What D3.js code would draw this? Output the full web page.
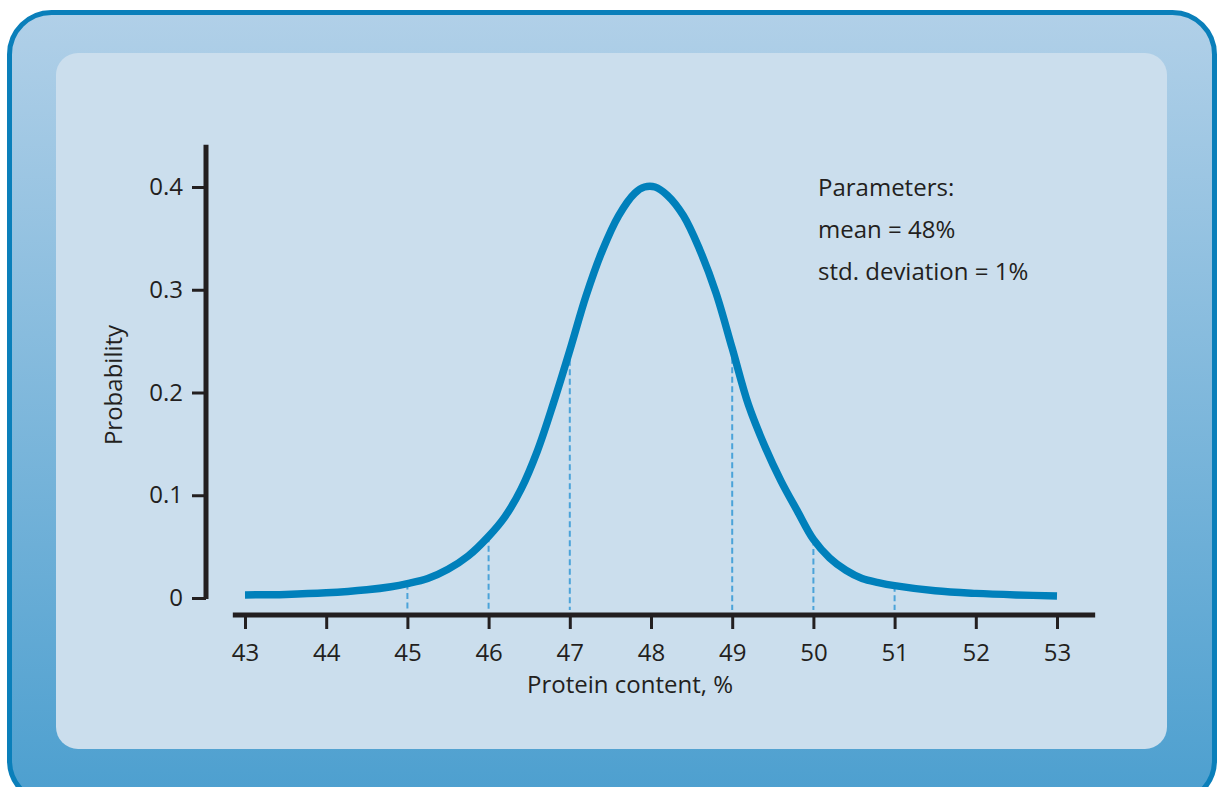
<!DOCTYPE html>
<html>
<head>
<meta charset="utf-8">
<script src="https://cdn.jsdelivr.net/npm/d3@7"></script>
<style>
  html, body { margin: 0; padding: 0; background: #ffffff; }
  svg { display: block; font-family: 'Open Sans', sans-serif; }
  .tick text { font-family: 'Open Sans', sans-serif; font-size: 24px; fill: #231f20; }
</style>
</head>
<body>
<script>
// Curve (protein %, probability)
const curveX = [43, 43.5, 44, 44.5, 44.8, 45, 45.25, 45.5, 45.75, 46, 46.2, 46.4, 46.6, 46.8,
  47, 47.2, 47.4, 47.6, 47.8, 47.92, 48.05, 48.2, 48.4, 48.6, 48.8, 49, 49.2, 49.4,
  49.6, 49.8, 50, 50.2, 50.4, 50.6, 50.8, 51, 51.5, 52, 52.5, 53];
const curveY = [0.003, 0.0035, 0.005, 0.008, 0.011, 0.014, 0.019, 0.028, 0.041, 0.060, 0.079, 0.106,
  0.143, 0.190, 0.241, 0.294, 0.338, 0.372, 0.394, 0.400, 0.400, 0.392, 0.372, 0.339,
  0.297, 0.243, 0.188, 0.148, 0.114, 0.085, 0.057, 0.039, 0.027, 0.019, 0.015, 0.012,
  0.007, 0.0045, 0.003, 0.002];

// Dashed guides under the curve
const guideX = [45, 46, 47, 49, 50, 51];
const guideY = [0.014, 0.060, 0.241, 0.243, 0.057, 0.012];

const xTicks = [43, 44, 45, 46, 47, 48, 49, 50, 51, 52, 53];
const yTicks = [0, 0.1, 0.2, 0.3, 0.4];
const paramLines = ['Parameters:', 'mean = 48%', 'std. deviation = 1%'];

const W = 1222, H = 787;
const ink = '#231f20';

const svg = d3.select('body')
  .append('svg')
  .attr('width', W)
  .attr('height', H);

// Frame
const defs = svg.append('defs');
const grad = defs.append('linearGradient')
  .attr('id', 'frameGrad')
  .attr('x1', 0).attr('y1', 0).attr('x2', 0).attr('y2', 1);
grad.append('stop').attr('offset', '0%').attr('stop-color', '#b1d0e8');
grad.append('stop').attr('offset', '100%').attr('stop-color', '#4c9fcf');

svg.append('rect')
  .attr('x', 9.5).attr('y', 12.5)
  .attr('width', 1205).attr('height', 790)
  .attr('rx', 42)
  .attr('fill', 'url(#frameGrad)')
  .attr('stroke', '#0a7fba')
  .attr('stroke-width', 5);

svg.append('rect')
  .attr('x', 56).attr('y', 53)
  .attr('width', 1111).attr('height', 696)
  .attr('rx', 22)
  .attr('fill', '#cbdeed');

// Scales
const xScale = d3.scaleLinear().domain([43, 53]).range([245, 1057]);
const yScale = d3.scaleLinear().domain([0, 0.4]).range([598, 187]);

const xAxisY = 615;
const yAxisX = 206;

// Dashed guides
svg.append('g')
  .selectAll('line')
  .data(guideX)
  .enter()
  .append('line')
  .attr('x1', d => xScale(d))
  .attr('x2', d => xScale(d))
  .attr('y1', (d, i) => yScale(guideY[i]))
  .attr('y2', xAxisY - 5)
  .attr('stroke', '#4ba3d9')
  .attr('stroke-width', 2)
  .attr('stroke-dasharray', '6,3.5');

// Curve
const line = d3.line()
  .x(d => xScale(d[0]))
  .y(d => yScale(d[1]))
  .curve(d3.curveCatmullRom.alpha(0.5));

svg.append('path')
  .datum(curveX.map((x, i) => [x, curveY[i]]))
  .attr('d', line)
  .attr('fill', 'none')
  .attr('stroke', '#0080bb')
  .attr('stroke-width', 7.5)
  .attr('stroke-linejoin', 'round');

// X axis
const xAxis = d3.axisBottom(xScale)
  .tickValues(xTicks)
  .tickSize(14)
  .tickSizeOuter(0)
  .tickPadding(10);

const gx = svg.append('g')
  .attr('transform', `translate(0, ${xAxisY})`)
  .call(xAxis);
gx.select('.domain').remove();
gx.selectAll('.tick line').attr('stroke', ink).attr('stroke-width', 3);
gx.selectAll('.tick text').attr('y', 29).attr('dy', '0.71em');

svg.append('line')
  .attr('x1', xScale(42.85)).attr('x2', xScale(53.47))
  .attr('y1', xAxisY).attr('y2', xAxisY)
  .attr('stroke', ink)
  .attr('stroke-width', 5);

// Y axis
const yAxis = d3.axisLeft(yScale)
  .tickValues(yTicks)
  .tickFormat(d => d === 0 ? '0' : d3.format('.1f')(d))
  .tickSize(14)
  .tickSizeOuter(0)
  .tickPadding(9);

const gy = svg.append('g')
  .attr('transform', `translate(${yAxisX}, 0)`)
  .call(yAxis);
gy.select('.domain').remove();
gy.selectAll('.tick line').attr('stroke', ink).attr('stroke-width', 3);

svg.append('line')
  .attr('x1', yAxisX).attr('x2', yAxisX)
  .attr('y1', yScale(0.441)).attr('y2', yScale(0) + 1)
  .attr('stroke', ink)
  .attr('stroke-width', 5);

// Axis titles
svg.append('text')
  .attr('x', 630)
  .attr('y', 693)
  .attr('text-anchor', 'middle')
  .attr('font-size', 24)
  .attr('fill', ink)
  .text('Protein content, %');

svg.append('text')
  .attr('transform', 'translate(122, 385) rotate(-90)')
  .attr('text-anchor', 'middle')
  .attr('font-size', 24)
  .attr('fill', ink)
  .text('Probability');

// Parameters note
svg.append('g')
  .selectAll('text')
  .data(paramLines)
  .enter()
  .append('text')
  .attr('x', 818)
  .attr('y', (d, i) => 196 + i * 42)
  .attr('font-size', 24)
  .attr('fill', ink)
  .text(d => d);
</script>
</body>
</html>
